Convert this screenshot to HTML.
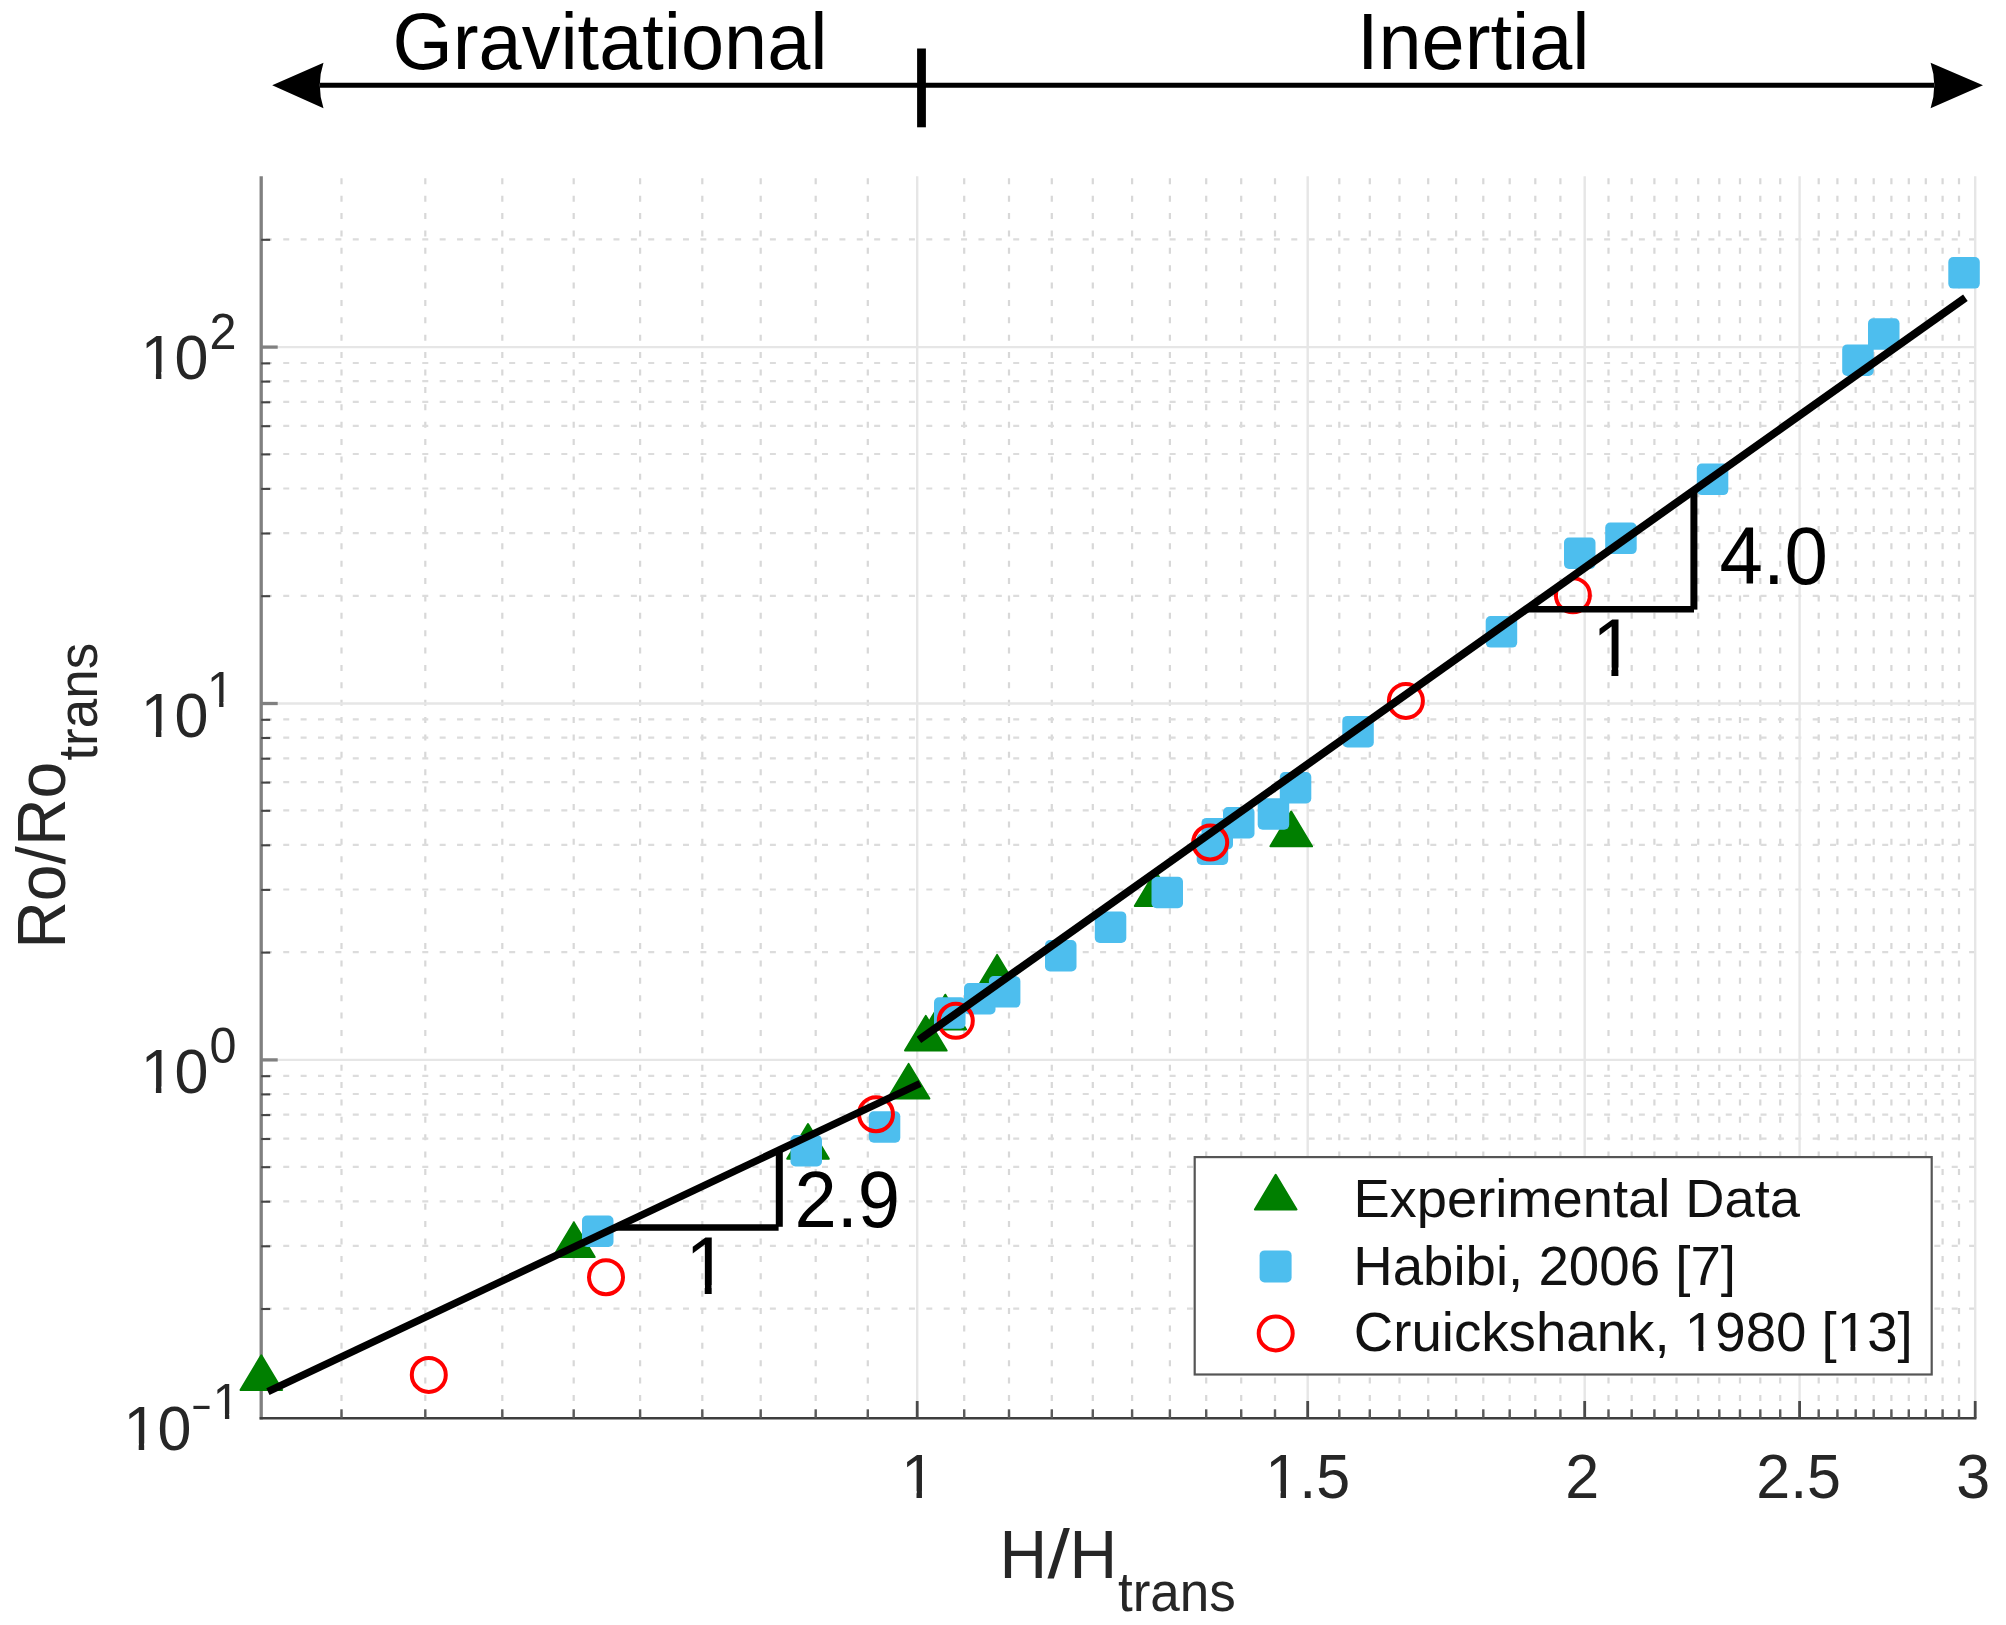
<!DOCTYPE html>
<html><head><meta charset="utf-8"><title>Ro/Ro_trans vs H/H_trans</title>
<style>html,body{margin:0;padding:0;background:#fff}svg{display:block}text{font-family:"Liberation Sans",sans-serif;font-kerning:none}</style></head><body>
<svg width="2006" height="1625" viewBox="0 0 2006 1625">
<defs><clipPath id="one" clipPathUnits="userSpaceOnUse"><path d="M0 -800H556V-105H339.6V12H250.4V-105H0Z"/></clipPath></defs>
<rect width="2006" height="1625" fill="#fff"/>
<g stroke="#d8d8d8" stroke-width="2.2" stroke-dasharray="6 11.38" fill="none">
<path d="M341.5 1418.3V176.3"/>
<path d="M425.3 1418.3V176.3"/>
<path d="M502.3 1418.3V176.3"/>
<path d="M573.7 1418.3V176.3"/>
<path d="M640.1 1418.3V176.3"/>
<path d="M702.3 1418.3V176.3"/>
<path d="M760.7 1418.3V176.3"/>
<path d="M815.7 1418.3V176.3"/>
<path d="M867.8 1418.3V176.3"/>
<path d="M964.2 1418.3V176.3"/>
<path d="M1009.0 1418.3V176.3"/>
<path d="M1051.8 1418.3V176.3"/>
<path d="M1092.8 1418.3V176.3"/>
<path d="M1132.1 1418.3V176.3"/>
<path d="M1169.9 1418.3V176.3"/>
<path d="M1206.2 1418.3V176.3"/>
<path d="M1241.2 1418.3V176.3"/>
<path d="M1275.0 1418.3V176.3"/>
<path d="M1339.3 1418.3V176.3"/>
<path d="M1369.8 1418.3V176.3"/>
<path d="M1399.5 1418.3V176.3"/>
<path d="M1428.2 1418.3V176.3"/>
<path d="M1456.1 1418.3V176.3"/>
<path d="M1483.3 1418.3V176.3"/>
<path d="M1509.7 1418.3V176.3"/>
<path d="M1535.3 1418.3V176.3"/>
<path d="M1560.4 1418.3V176.3"/>
<path d="M1608.5 1418.3V176.3"/>
<path d="M1631.7 1418.3V176.3"/>
<path d="M1654.4 1418.3V176.3"/>
<path d="M1676.5 1418.3V176.3"/>
<path d="M1698.2 1418.3V176.3"/>
<path d="M1719.3 1418.3V176.3"/>
<path d="M1740.0 1418.3V176.3"/>
<path d="M1760.3 1418.3V176.3"/>
<path d="M1780.2 1418.3V176.3"/>
<path d="M1818.7 1418.3V176.3"/>
<path d="M1837.4 1418.3V176.3"/>
<path d="M1855.7 1418.3V176.3"/>
<path d="M1873.7 1418.3V176.3"/>
<path d="M1891.4 1418.3V176.3"/>
<path d="M1908.8 1418.3V176.3"/>
<path d="M1925.8 1418.3V176.3"/>
<path d="M1942.6 1418.3V176.3"/>
<path d="M1959.0 1418.3V176.3"/>
<path d="M1975.1 1308.6H261.2" stroke="#dcdcdc"/>
<path d="M1975.1 1245.9H261.2" stroke="#dcdcdc"/>
<path d="M1975.1 1201.3H261.2" stroke="#dcdcdc"/>
<path d="M1975.1 1166.8H261.2" stroke="#dcdcdc"/>
<path d="M1975.1 1138.6H261.2" stroke="#dcdcdc"/>
<path d="M1975.1 1114.7H261.2" stroke="#dcdcdc"/>
<path d="M1975.1 1094.0H261.2" stroke="#dcdcdc"/>
<path d="M1975.1 1075.8H261.2" stroke="#dcdcdc"/>
<path d="M1975.1 952.2H261.2" stroke="#dcdcdc"/>
<path d="M1975.1 889.5H261.2" stroke="#dcdcdc"/>
<path d="M1975.1 844.9H261.2" stroke="#dcdcdc"/>
<path d="M1975.1 810.4H261.2" stroke="#dcdcdc"/>
<path d="M1975.1 782.2H261.2" stroke="#dcdcdc"/>
<path d="M1975.1 758.3H261.2" stroke="#dcdcdc"/>
<path d="M1975.1 737.6H261.2" stroke="#dcdcdc"/>
<path d="M1975.1 719.4H261.2" stroke="#dcdcdc"/>
<path d="M1975.1 595.8H261.2" stroke="#dcdcdc"/>
<path d="M1975.1 533.1H261.2" stroke="#dcdcdc"/>
<path d="M1975.1 488.5H261.2" stroke="#dcdcdc"/>
<path d="M1975.1 454.0H261.2" stroke="#dcdcdc"/>
<path d="M1975.1 425.8H261.2" stroke="#dcdcdc"/>
<path d="M1975.1 401.9H261.2" stroke="#dcdcdc"/>
<path d="M1975.1 381.2H261.2" stroke="#dcdcdc"/>
<path d="M1975.1 363.0H261.2" stroke="#dcdcdc"/>
<path d="M1975.1 239.4H261.2" stroke="#dcdcdc"/>
</g>
<g stroke="#e6e6e6" stroke-width="2.4" fill="none">
<path d="M917.2 1418.3V176.3"/>
<path d="M1307.7 1418.3V176.3"/>
<path d="M1584.7 1418.3V176.3"/>
<path d="M1799.6 1418.3V176.3"/>
<path d="M1975.2 1418.3V176.3"/>
<path d="M261.2 1059.9H1975.1"/>
<path d="M261.2 703.5H1975.1"/>
<path d="M261.2 347.1H1975.1"/>
</g>
<path d="M261.2 176.3V1419.5" stroke="#808080" stroke-width="3.3" fill="none"/>
<path d="M259.59999999999997 1418.3H1976.3999999999999" stroke="#3e3e3e" stroke-width="2.4" fill="none"/>
<g stroke="#4a4a4a" stroke-width="2.8" fill="none">
<path d="M917.2 1418.3v-17.3"/>
<path d="M1307.7 1418.3v-17.3"/>
<path d="M1584.7 1418.3v-17.3"/>
<path d="M1799.6 1418.3v-17.3"/>
<path d="M1975.2 1418.3v-17.3"/>
</g>
<g stroke="#808080" stroke-width="3.3" fill="none">
<path d="M261.2 1059.9h16.5"/>
<path d="M261.2 703.5h16.5"/>
<path d="M261.2 347.1h16.5"/>
</g>
<g stroke="#5a5a5a" stroke-width="2.4" fill="none">
<path d="M341.5 1418.3v-9"/>
<path d="M425.3 1418.3v-9"/>
<path d="M502.3 1418.3v-9"/>
<path d="M573.7 1418.3v-9"/>
<path d="M640.1 1418.3v-9"/>
<path d="M702.3 1418.3v-9"/>
<path d="M760.7 1418.3v-9"/>
<path d="M815.7 1418.3v-9"/>
<path d="M867.8 1418.3v-9"/>
<path d="M964.2 1418.3v-9"/>
<path d="M1009.0 1418.3v-9"/>
<path d="M1051.8 1418.3v-9"/>
<path d="M1092.8 1418.3v-9"/>
<path d="M1132.1 1418.3v-9"/>
<path d="M1169.9 1418.3v-9"/>
<path d="M1206.2 1418.3v-9"/>
<path d="M1241.2 1418.3v-9"/>
<path d="M1275.0 1418.3v-9"/>
<path d="M1339.3 1418.3v-9"/>
<path d="M1369.8 1418.3v-9"/>
<path d="M1399.5 1418.3v-9"/>
<path d="M1428.2 1418.3v-9"/>
<path d="M1456.1 1418.3v-9"/>
<path d="M1483.3 1418.3v-9"/>
<path d="M1509.7 1418.3v-9"/>
<path d="M1535.3 1418.3v-9"/>
<path d="M1560.4 1418.3v-9"/>
<path d="M1608.5 1418.3v-9"/>
<path d="M1631.7 1418.3v-9"/>
<path d="M1654.4 1418.3v-9"/>
<path d="M1676.5 1418.3v-9"/>
<path d="M1698.2 1418.3v-9"/>
<path d="M1719.3 1418.3v-9"/>
<path d="M1740.0 1418.3v-9"/>
<path d="M1760.3 1418.3v-9"/>
<path d="M1780.2 1418.3v-9"/>
<path d="M1818.7 1418.3v-9"/>
<path d="M1837.4 1418.3v-9"/>
<path d="M1855.7 1418.3v-9"/>
<path d="M1873.7 1418.3v-9"/>
<path d="M1891.4 1418.3v-9"/>
<path d="M1908.8 1418.3v-9"/>
<path d="M1925.8 1418.3v-9"/>
<path d="M1942.6 1418.3v-9"/>
<path d="M1959.0 1418.3v-9"/>
</g>
<g stroke="#444" stroke-width="2.1" fill="none">
<path d="M261.2 1309.0h9"/>
<path d="M261.2 1246.3h9"/>
<path d="M261.2 1201.7h9"/>
<path d="M261.2 1167.2h9"/>
<path d="M261.2 1139.0h9"/>
<path d="M261.2 1115.1h9"/>
<path d="M261.2 1094.4h9"/>
<path d="M261.2 1076.2h9"/>
<path d="M261.2 952.6h9"/>
<path d="M261.2 889.9h9"/>
<path d="M261.2 845.3h9"/>
<path d="M261.2 810.8h9"/>
<path d="M261.2 782.6h9"/>
<path d="M261.2 758.7h9"/>
<path d="M261.2 738.0h9"/>
<path d="M261.2 719.8h9"/>
<path d="M261.2 596.2h9"/>
<path d="M261.2 533.5h9"/>
<path d="M261.2 488.9h9"/>
<path d="M261.2 454.4h9"/>
<path d="M261.2 426.2h9"/>
<path d="M261.2 402.3h9"/>
<path d="M261.2 381.6h9"/>
<path d="M261.2 363.4h9"/>
<path d="M261.2 239.8h9"/>
</g>
<g fill="#007f00" stroke="#007f00" stroke-width="2" stroke-linejoin="round">
<path d="M261.3 1355.3L282.1 1390.0H240.5Z"/>
<path d="M573.9 1222.4L594.7 1257.1H553.1Z"/>
<path d="M808.0 1124.1L828.8 1158.8H787.2Z"/>
<path d="M908.6 1063.9L929.4 1098.6H887.8Z"/>
<path d="M925.8 1015.9L946.6 1050.6H905.0Z"/>
<path d="M945.3 994.7L966.1 1029.4H924.5Z"/>
<path d="M997.1 954.9L1017.9 989.6H976.3Z"/>
<path d="M1155.6 871.2L1176.4 905.9H1134.8Z"/>
<path d="M1291.2 811.6L1312.0 846.3H1270.4Z"/>
</g>
<g fill="#4dbeee">
<rect x="582.0" y="1215.5" width="31.5" height="31.5" rx="5"/>
<rect x="790.5" y="1135.0" width="31.5" height="31.5" rx="5"/>
<rect x="868.8" y="1111.2" width="31.5" height="31.5" rx="5"/>
<rect x="934.0" y="997.2" width="31.5" height="31.5" rx="5"/>
<rect x="964.0" y="983.0" width="31.5" height="31.5" rx="5"/>
<rect x="988.9" y="976.1" width="31.5" height="31.5" rx="5"/>
<rect x="1045.0" y="940.0" width="31.5" height="31.5" rx="5"/>
<rect x="1094.8" y="911.4" width="31.5" height="31.5" rx="5"/>
<rect x="1151.5" y="876.8" width="31.5" height="31.5" rx="5"/>
<rect x="1201.5" y="817.9" width="31.5" height="31.5" rx="5"/>
<rect x="1196.7" y="833.5" width="31.5" height="31.5" rx="5"/>
<rect x="1223.0" y="807.0" width="31.5" height="31.5" rx="5"/>
<rect x="1257.7" y="798.2" width="31.5" height="31.5" rx="5"/>
<rect x="1279.8" y="772.0" width="31.5" height="31.5" rx="5"/>
<rect x="1342.3" y="715.9" width="31.5" height="31.5" rx="5"/>
<rect x="1485.7" y="616.1" width="31.5" height="31.5" rx="5"/>
<rect x="1564.0" y="537.5" width="31.5" height="31.5" rx="5"/>
<rect x="1605.2" y="522.6" width="31.5" height="31.5" rx="5"/>
<rect x="1696.8" y="463.6" width="31.5" height="31.5" rx="5"/>
<rect x="1842.2" y="344.4" width="31.5" height="31.5" rx="5"/>
<rect x="1868.0" y="318.2" width="31.5" height="31.5" rx="5"/>
<rect x="1948.3" y="257.1" width="31.5" height="31.5" rx="5"/>
</g>
<g fill="none" stroke="#ff0000" stroke-width="4">
<circle cx="428.8" cy="1374.9" r="17"/>
<circle cx="606" cy="1277.2" r="17"/>
<circle cx="876" cy="1114.2" r="17"/>
<circle cx="955.8" cy="1020.8" r="17"/>
<circle cx="1210.2" cy="842.5" r="17"/>
<circle cx="1405.9" cy="700.9" r="17"/>
<circle cx="1572.9" cy="595.2" r="17"/>
</g>
<g stroke="#000" fill="none">
<path d="M267.9 1391.6L920.1 1083.5" stroke-width="7.4"/>
<path d="M918.9 1039.9L1965.4 297.8" stroke-width="7.9"/>
<path d="M614.8 1227.5H778.6" stroke-width="6.5"/><path d="M779.3 1149.6V1226.8" stroke-width="7"/>
<path d="M1526.8 609.3H1694" stroke-width="6.6"/><path d="M1693.9 492V609.6" stroke-width="7"/>
</g>
<g transform="translate(794.5 1227.3) scale(1 1.04)" font-size="76" fill="#000"><text x="0">2.9</text></g>
<g transform="translate(685.2 1293.6) scale(1 1.05)" font-size="78" fill="#000"><g transform="translate(0 0) scale(0.0780)"><text font-size="1000" clip-path="url(#one)">1</text></g></g>
<g transform="translate(1719.5 583.7) scale(1 1.05)" font-size="78" fill="#000"><text x="0">4.0</text></g>
<g transform="translate(1591.9 676) scale(1 1.05)" font-size="78" fill="#000"><g transform="translate(0 0) scale(0.0780)"><text font-size="1000" clip-path="url(#one)">1</text></g></g>
<rect x="1194.7" y="1157.1" width="737" height="217.4" fill="#fff" stroke="#555" stroke-width="2.2"/>
<path d="M1275.7 1174.8L1296.5 1209.5H1254.9Z" fill="#007f00" stroke="#007f00" stroke-width="2" stroke-linejoin="round"/>
<rect x="1259.6" y="1250.4" width="32" height="32" rx="5" fill="#4dbeee"/>
<circle cx="1275.7" cy="1333.4" r="17" fill="none" stroke="#ff0000" stroke-width="4"/>
<g transform="translate(1353.4 1216.9)" font-size="54.3" fill="#111"><text x="0">Experimental Data</text></g>
<g transform="translate(1353.2 1284.7)" font-size="54.65" fill="#111"><text x="0">Habibi, 2006 [7]</text></g>
<g transform="translate(1353.8 1351.3)" font-size="54.65" fill="#111"><text x="0">Cruickshank, </text><g transform="translate(331.05 0) scale(0.0546)"><text font-size="1000" clip-path="url(#one)">1</text></g><text x="361.44">980 [</text><g transform="translate(482.99 0) scale(0.0546)"><text font-size="1000" clip-path="url(#one)">1</text></g><text x="513.38">3]</text></g>
<g transform="translate(918.2 1497.6) scale(1 1.03)" font-size="61" fill="#262626"><g transform="translate(-16.96 0) scale(0.0610)"><text font-size="1000" clip-path="url(#one)">1</text></g></g>
<g transform="translate(1307.68 1497.6) scale(1 1.03)" font-size="61" fill="#262626"><g transform="translate(-42.4 0) scale(0.0610)"><text font-size="1000" clip-path="url(#one)">1</text></g><text x="-8.47">.5</text></g>
<g transform="translate(1582.23 1497.6) scale(1 1.03)" font-size="61" fill="#262626"><text x="-16.96">2</text></g>
<g transform="translate(1798.63 1497.6) scale(1 1.03)" font-size="61" fill="#262626"><text x="-42.4">2.5</text></g>
<g transform="translate(1973.22 1497.6) scale(1 1.03)" font-size="61" fill="#262626"><text x="-16.96">3</text></g>
<g transform="translate(208.5 378.7) scale(1 1.03)" font-size="61" fill="#262626"><g transform="translate(-67.85 0) scale(0.0610)"><text font-size="1000" clip-path="url(#one)">1</text></g><text x="-33.93">0</text></g>
<g transform="translate(209.5 348.7) scale(1 1.03)" font-size="48.5" fill="#262626"><text x="0">2</text></g>
<g transform="translate(208.5 737.2) scale(1 1.03)" font-size="61" fill="#262626"><g transform="translate(-67.85 0) scale(0.0610)"><text font-size="1000" clip-path="url(#one)">1</text></g><text x="-33.93">0</text></g>
<g transform="translate(207 707.2) scale(1 1.03)" font-size="48.5" fill="#262626"><g transform="translate(0 0) scale(0.0485)"><text font-size="1000" clip-path="url(#one)">1</text></g></g>
<g transform="translate(208.5 1093.2) scale(1 1.03)" font-size="61" fill="#262626"><g transform="translate(-67.85 0) scale(0.0610)"><text font-size="1000" clip-path="url(#one)">1</text></g><text x="-33.93">0</text></g>
<g transform="translate(209.5 1063.2) scale(1 1.03)" font-size="48.5" fill="#262626"><text x="0">0</text></g>
<g transform="translate(191.3 1450.2) scale(1 1.03)" font-size="61" fill="#262626"><g transform="translate(-67.85 0) scale(0.0610)"><text font-size="1000" clip-path="url(#one)">1</text></g><text x="-33.93">0</text></g>
<g transform="translate(201.6 1417.6) scale(1.36 0.85)" fill="#262626"><text font-size="48.5" text-anchor="middle">-</text></g>
<g transform="translate(212.8 1419.3) scale(1 1.03)" font-size="48.5" fill="#262626"><g transform="translate(0 0) scale(0.0485)"><text font-size="1000" clip-path="url(#one)">1</text></g></g>
<g fill="#262626">
<g transform="translate(999.5 1578.1) scale(1 1.035)" font-size="66"><text x="0">H</text></g>
<g transform="translate(1058.8 1578.1) scale(1.22 1.035)"><text font-size="66" text-anchor="middle">/</text></g>
<g transform="translate(1069.5 1578.1) scale(1 1.035)" font-size="66"><text x="0">H</text></g>
<g transform="translate(1118 1610.5) scale(1 1.03)" font-size="53"><text x="0">trans</text></g>
<g transform="translate(64.8 948.8) rotate(-90)">
<g transform="translate(0 0) scale(1 1.035)" font-size="66"><text x="0">Ro/Ro</text></g>
<g transform="translate(188.2 32) scale(1 1.03)" font-size="53"><text x="0">trans</text></g>
</g>
</g>
<g fill="#000">
<path d="M320 85.2H1934" stroke="#000" stroke-width="5" fill="none"/>
<path d="M921.5 48.5V127.3" stroke="#000" stroke-width="8.8" fill="none"/>
<path d="M272.2 85.2L323.5 62.8Q316 85.2 323.5 108.2Z"/>
<path d="M1983 85.2L1930.6 62.8Q1938 85.2 1930.6 108.2Z"/>
<g transform="translate(392.5 68.7) scale(1 1.03)" font-size="77.5"><text x="0">Gravitational</text></g>
<g transform="translate(1357 68.7) scale(1 1.03)" font-size="77.5"><text x="0">Inertial</text></g>
</g>
</svg></body></html>
